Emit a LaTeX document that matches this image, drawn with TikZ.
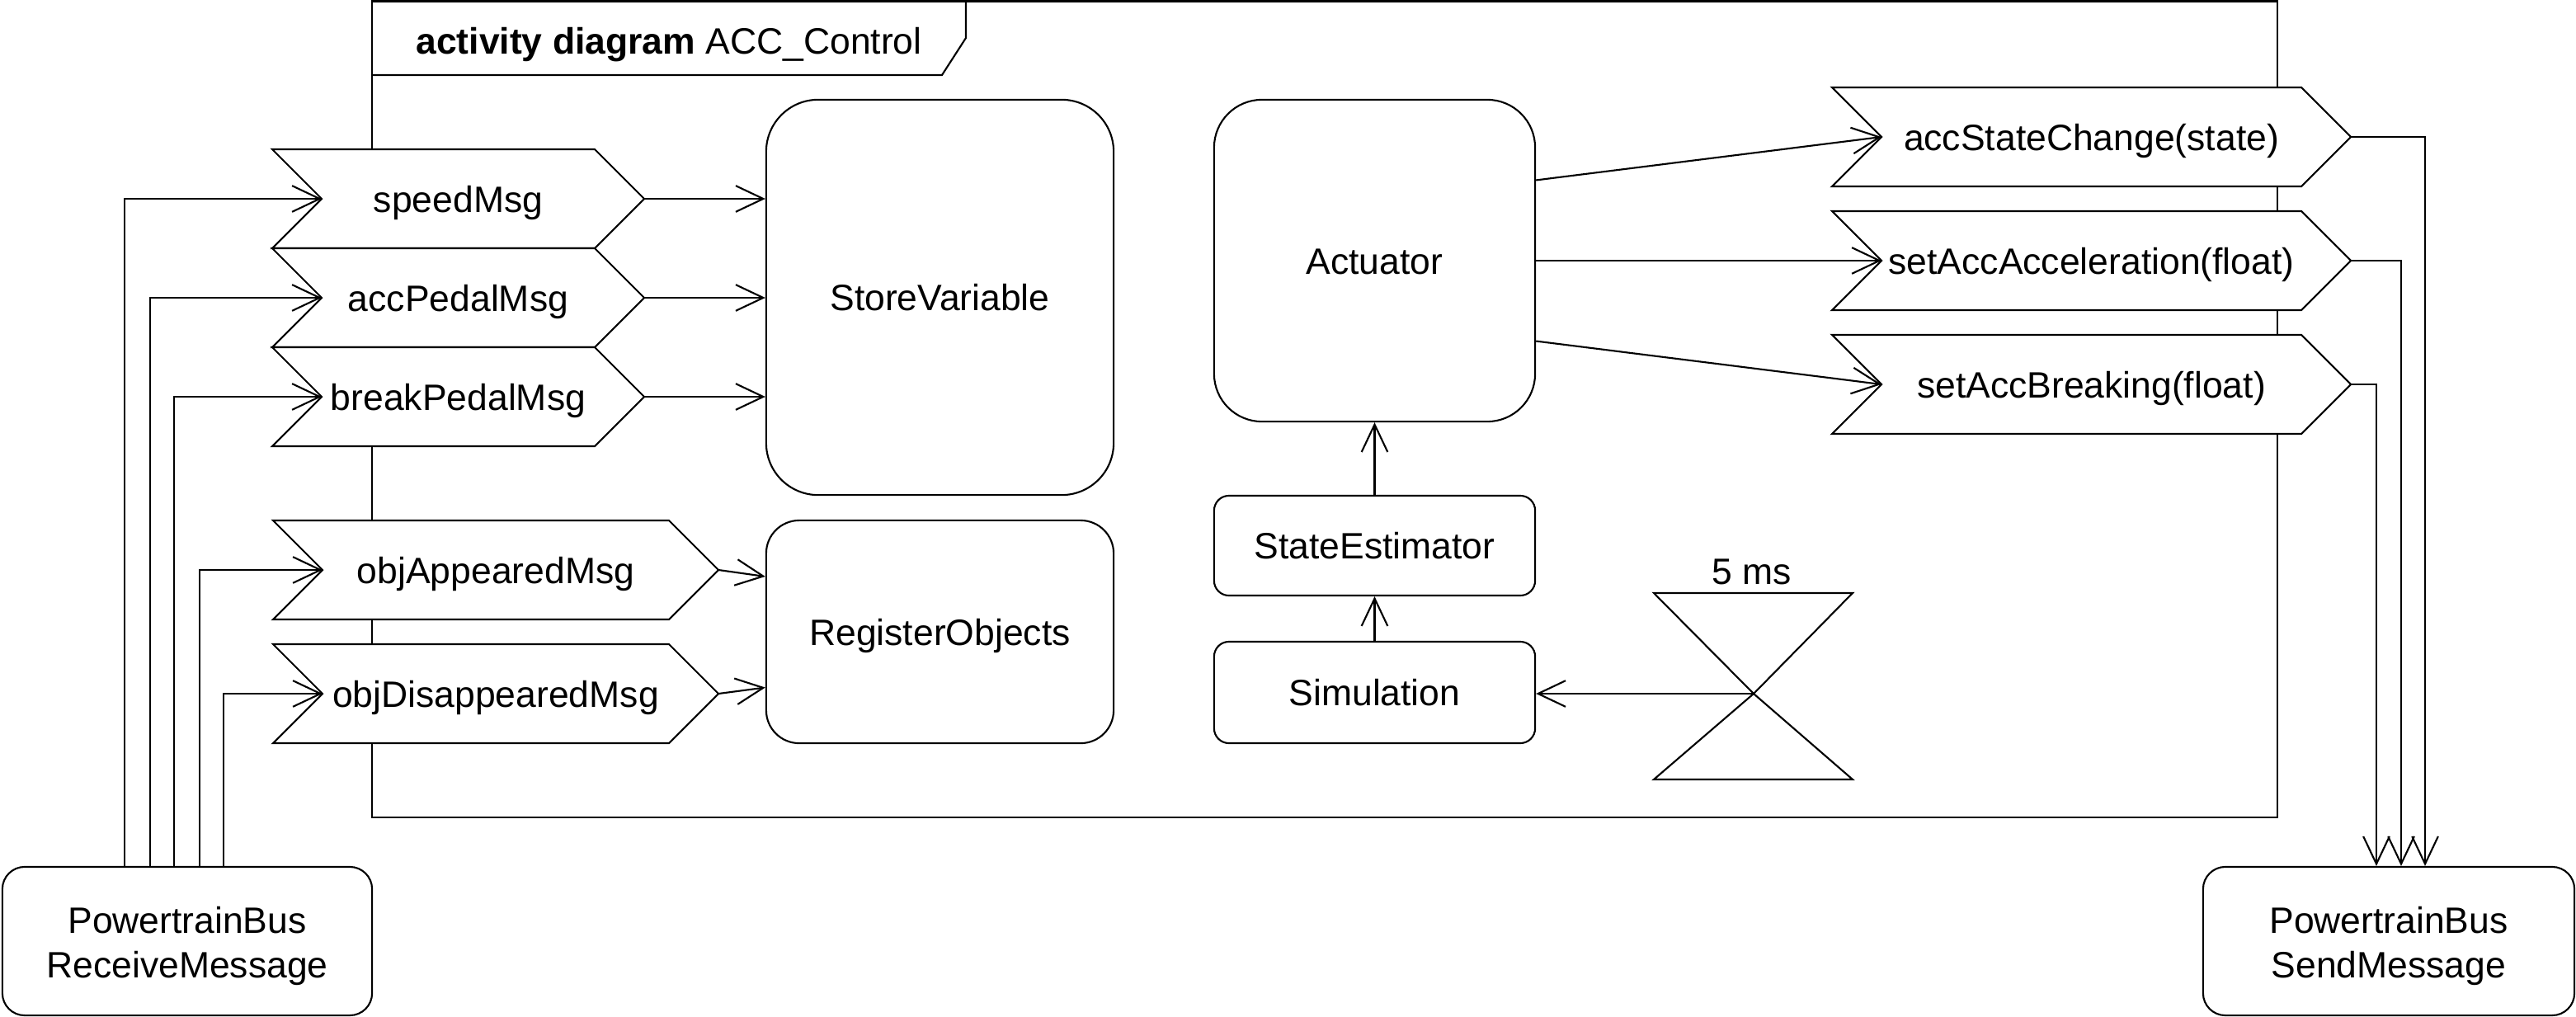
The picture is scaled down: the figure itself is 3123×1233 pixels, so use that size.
\documentclass[tikz,border=0pt]{standalone}
\usepackage{fontspec}
\setmainfont{Liberation Sans}
\usetikzlibrary{arrows.meta,calc}
\newcommand\chevshape[5]{% name, left x, tip x, mid y, text
  \draw[lw,fill=white] ({#2},{#4-60}) -- ({#3-60},{#4-60}) -- ({#3},{#4}) -- ({#3-60},{#4+60}) -- ({#2},{#4+60}) -- ({#2+60},{#4}) -- cycle;
  \node[one,inner sep=0pt] (#1) at ({(#2+#3)/2},{#4}) {#5};
  \coordinate (#1-in) at ({#2+60},{#4});
  \coordinate (#1-out) at ({#3},{#4});
}
\begin{document}
\begin{tikzpicture}[x=0.01cm,y=-0.01cm,
  lw/.style={line width=0.6pt},
  every node/.style={font=\fontsize{12.65pt}{15.6pt}\selectfont},
  one/.style={text height=12.3pt,text depth=3.2pt},
  box/.style={draw,lw,fill=white,inner sep=0pt,align=center},
  flow/.style={lw,-{Straight Barb[length=9.5pt,width=9pt]}},
]
\useasboundingbox (0,0) rectangle (3123,1233);

% frame
\draw[lw] (451,1.5) rectangle (2761,991);
\draw[lw] (451,91) -- (1142,91) -- (1171,46) -- (1171,1.5);
\node[anchor=base] (title) at (811,65) {\textbf{activity diagram} ACC\_Control};

% action nodes
\node[box,one,minimum width=4.21cm,minimum height=4.79cm,rounded corners=0.63cm] (store) at (1139.5,360.5) {StoreVariable};
\node[box,one,minimum width=4.21cm,minimum height=2.70cm,rounded corners=0.40cm] (register) at (1139.5,766) {RegisterObjects};
\node[box,one,minimum width=3.89cm,minimum height=3.90cm,rounded corners=0.58cm] (actuator) at (1666.5,316) {Actuator};
\node[box,one,minimum width=3.89cm,minimum height=1.21cm,rounded corners=0.18cm] (estimator) at (1666.5,661.5) {StateEstimator};
\node[box,one,minimum width=3.89cm,minimum height=1.23cm,rounded corners=0.18cm] (simulation) at (1666.5,839.5) {Simulation};
\node[box,minimum width=4.48cm,minimum height=1.80cm,rounded corners=0.27cm] (receive) at (227,1141) {\rule{0pt}{12.6pt}PowertrainBus\\ReceiveMessage};
\node[box,minimum width=4.50cm,minimum height=1.80cm,rounded corners=0.27cm] (send) at (2896,1141) {\rule{0pt}{12.6pt}PowertrainBus\\SendMessage};

% signals
\chevshape{speed}{330}{781}{241}{speedMsg}
\chevshape{accpedal}{330}{781}{361}{accPedalMsg}
\chevshape{breakpedal}{330}{781}{481}{breakPedalMsg}
\chevshape{objapp}{331}{871}{691}{objAppearedMsg}
\chevshape{objdis}{331}{871}{841}{objDisappearedMsg}
\chevshape{statechange}{2221}{2850}{166}{accStateChange(state)}
\chevshape{setacc}{2221}{2850}{316}{setAccAcceleration(float)}
\chevshape{setbrk}{2221}{2850}{466}{setAccBreaking(float)}

% time event
\coordinate (timer) at (2126,841);
\draw[lw] (2005,719) -- (2246,719) -- (timer) -- (2246,945) -- (2005,945) -- (timer) -- cycle;
\node[anchor=base] (period) at (2124,708) {5 ms};

% inputs from bus
\draw[flow] ([xshift=-0.76cm]receive.north) |- (speed-in);
\draw[flow] ([xshift=-0.45cm]receive.north) |- (accpedal-in);
\draw[flow] ([xshift=-0.16cm]receive.north) |- (breakpedal-in);
\draw[flow] ([xshift=0.15cm]receive.north) |- (objapp-in);
\draw[flow] ([xshift=0.44cm]receive.north) |- (objdis-in);

% into store / register
\draw[flow] (speed-out) -- (speed-out -| store.west);
\draw[flow] (accpedal-out) -- (accpedal-out -| store.west);
\draw[flow] (breakpedal-out) -- (breakpedal-out -| store.west);
\draw[flow] (objapp-out) -- ([yshift=0.67cm]register.west);
\draw[flow] (objdis-out) -- ([yshift=-0.675cm]register.west);

% actuator outputs
\draw[flow] ([yshift=0.975cm]actuator.east) -- (statechange-in);
\draw[flow] (actuator.east) -- (setacc-in);
\draw[flow] ([yshift=-0.975cm]actuator.east) -- (setbrk-in);

% chain
\draw[flow] (timer) -- (timer -| simulation.east);
\draw[flow] (simulation.north) -- (estimator.south);
\draw[flow] (estimator.north) -- (actuator.south);

% outputs to bus
\draw[flow] (statechange-out) -| ([xshift=0.44cm]send.north);
\draw[flow] (setacc-out) -| ([xshift=0.15cm]send.north);
\draw[flow] (setbrk-out) -| ([xshift=-0.15cm]send.north);
\end{tikzpicture}
\end{document}
